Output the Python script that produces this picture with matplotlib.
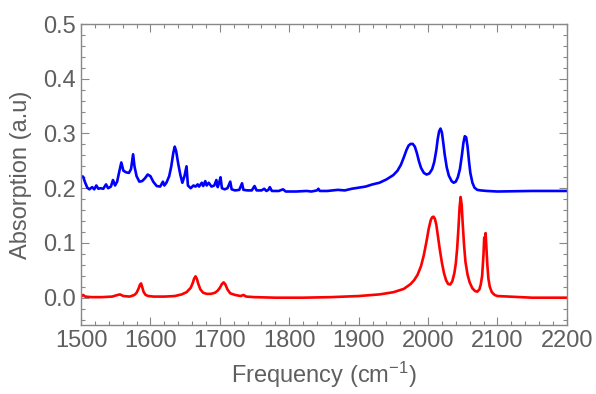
import matplotlib
matplotlib.use("Agg")
import matplotlib.pyplot as plt
from matplotlib.ticker import MultipleLocator

red_x = [1500, 1503, 1506, 1515, 1530, 1545, 1550, 1556, 1561, 1570, 1577, 1580, 1583, 1585, 1586.5,
         1588, 1590, 1593, 1597, 1605, 1620, 1635, 1645, 1652, 1658, 1661, 1663, 1665, 1667,
         1669, 1672, 1676, 1681, 1687, 1693, 1697, 1700, 1703, 1705.5, 1708, 1711, 1715, 1722,
         1730, 1734, 1738, 1750, 1780, 1820, 1860, 1900, 1930, 1950, 1965, 1975, 1980, 1985,
         1990, 1994, 1998, 2001, 2004, 2006, 2008, 2010, 2012, 2014, 2017, 2020, 2023, 2026,
         2029, 2032, 2035, 2038, 2040, 2042, 2044, 2045.5, 2047, 2048.5, 2050, 2052, 2054, 2057,
         2060, 2064, 2068, 2071, 2074, 2076, 2078, 2080, 2081, 2082, 2083, 2084, 2085.5, 2087,
         2089, 2092, 2096, 2100, 2150, 2200]
red_y = [0.002, 0.005, 0.002, 0.001, 0.001, 0.002, 0.004, 0.006, 0.003, 0.002, 0.005, 0.009, 0.017, 0.024, 0.026,
         0.020, 0.011, 0.005, 0.003, 0.002, 0.002, 0.003, 0.006, 0.010, 0.018, 0.027, 0.035, 0.039, 0.034,
         0.025, 0.015, 0.009, 0.007, 0.007, 0.009, 0.013, 0.018, 0.025, 0.028, 0.024, 0.015, 0.008, 0.005,
         0.003, 0.005, 0.002, 0.001, 0.000, 0.000, 0.001, 0.003, 0.006, 0.010, 0.016, 0.025, 0.032, 0.042,
         0.058, 0.078, 0.104, 0.126, 0.142, 0.147, 0.148, 0.144, 0.133, 0.115, 0.088, 0.064, 0.045, 0.032,
         0.025, 0.024, 0.030, 0.045, 0.062, 0.090, 0.130, 0.165, 0.184, 0.170, 0.135, 0.095, 0.065, 0.042,
         0.028, 0.017, 0.012, 0.011, 0.015, 0.024, 0.040, 0.080, 0.110, 0.102, 0.118, 0.095, 0.060, 0.035,
         0.020, 0.010, 0.005, 0.003, 0.000, 0.000]

blue_x = [1500, 1503, 1506, 1509, 1512, 1516, 1519, 1522, 1525, 1528, 1532, 1536, 1539, 1543, 1546,
          1549, 1552, 1555, 1558, 1561, 1565, 1569, 1572, 1575, 1577, 1580, 1584, 1588, 1592, 1596,
          1600, 1604, 1609, 1614, 1618, 1620, 1623, 1627, 1630, 1633, 1635, 1637, 1640, 1643, 1646,
          1649, 1652, 1654, 1658, 1662, 1665, 1668, 1670, 1674, 1676, 1679, 1681, 1684, 1688, 1692,
          1695, 1697, 1699, 1701, 1703, 1707, 1711, 1715, 1717, 1722, 1728, 1732, 1734, 1740, 1746,
          1750, 1753, 1760, 1764, 1767, 1770, 1772, 1775, 1785, 1791, 1795, 1810, 1825, 1832, 1840,
          1842, 1844, 1855, 1870, 1880, 1890, 1900, 1910, 1920, 1930, 1940, 1950, 1956, 1961, 1965,
          1969, 1972, 1975, 1978, 1981, 1984, 1987, 1990, 1994, 1998, 2002, 2006, 2009, 2012, 2014,
          2016, 2018, 2020, 2022, 2024, 2027, 2030, 2034, 2037, 2040, 2043, 2046, 2049, 2051, 2053,
          2055, 2057, 2059, 2061, 2064, 2067, 2071, 2076, 2085, 2100, 2150, 2200]
blue_y = [0.222, 0.221, 0.210, 0.201, 0.198, 0.202, 0.198, 0.205, 0.199, 0.200, 0.199, 0.207, 0.200, 0.203, 0.215,
          0.205, 0.212, 0.230, 0.247, 0.232, 0.229, 0.228, 0.235, 0.262, 0.240, 0.222, 0.212, 0.213, 0.218, 0.225,
          0.222, 0.212, 0.204, 0.203, 0.212, 0.205, 0.210, 0.222, 0.240, 0.265, 0.276, 0.268, 0.245, 0.225, 0.210,
          0.222, 0.240, 0.205, 0.200, 0.205, 0.203, 0.207, 0.203, 0.210, 0.204, 0.213, 0.205, 0.210, 0.203, 0.205,
          0.215, 0.202, 0.210, 0.220, 0.200, 0.198, 0.200, 0.212, 0.198, 0.196, 0.197, 0.209, 0.197, 0.196, 0.196,
          0.204, 0.196, 0.196, 0.199, 0.195, 0.197, 0.202, 0.195, 0.195, 0.198, 0.194, 0.194, 0.195, 0.194, 0.196,
          0.199, 0.195, 0.195, 0.197, 0.196, 0.199, 0.201, 0.203, 0.207, 0.210, 0.216, 0.224, 0.232, 0.243, 0.256,
          0.270, 0.278, 0.281, 0.281, 0.276, 0.264, 0.249, 0.237, 0.228, 0.225, 0.227, 0.235, 0.248, 0.270, 0.290,
          0.304, 0.309, 0.302, 0.283, 0.262, 0.238, 0.223, 0.213, 0.210, 0.212, 0.220, 0.235, 0.262, 0.283, 0.295,
          0.293, 0.276, 0.250, 0.228, 0.210, 0.201, 0.197, 0.196, 0.195, 0.194, 0.195, 0.195]

x_ticks = [1500, 1600, 1700, 1800, 1900, 2000, 2100, 2200]
y_ticks = [0.0, 0.1, 0.2, 0.3, 0.4, 0.5]

plt.rcParams['font.family'] = ['Liberation Sans', 'DejaVu Sans']
plt.rcParams['mathtext.fontset'] = 'custom'
plt.rcParams['mathtext.rm'] = 'Liberation Sans'
plt.rcParams['mathtext.default'] = 'regular'

gray = "#5f5f5f"
fig = plt.figure(figsize=(5.96, 3.94), dpi=100)
ax = fig.add_axes([0.136, 0.175, 0.815, 0.764])
ax.plot(blue_x, blue_y, color="#0000ff", lw=1.9, solid_joinstyle="round")
ax.plot(red_x, red_y, color="#ff0000", lw=1.9, solid_joinstyle="round")
ax.set_xlim(1500, 2200)
ax.set_ylim(-0.05, 0.5)
ax.set_xticks(x_ticks)
ax.set_yticks(y_ticks)
ax.set_xticklabels([str(v) for v in x_ticks])
ax.set_yticklabels([f"{v:.1f}" for v in y_ticks])
ax.xaxis.set_minor_locator(MultipleLocator(20))
ax.yaxis.set_minor_locator(MultipleLocator(0.02))
ax.tick_params(which="both", direction="in", top=True, right=True, colors="#888888",
               labelcolor=gray, labelsize=17, width=0.8)
ax.tick_params(which="major", length=6)
ax.tick_params(which="minor", length=3)
for s in ax.spines.values():
    s.set_color("#888888")
    s.set_linewidth(1.0)
ax.set_xlabel("Frequency (cm$^{-1}$)", color=gray, fontsize=17, labelpad=6)
ax.set_ylabel("Absorption (a.u)", color=gray, fontsize=17, labelpad=8)
fig.savefig("out.png", dpi=100)
